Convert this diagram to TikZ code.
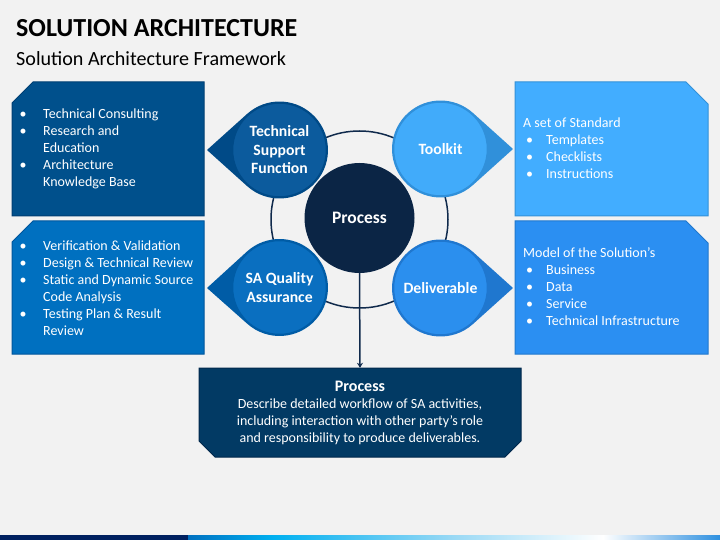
\documentclass[tikz,border=0pt]{standalone}
\usepackage{fontspec}
\setmainfont{Carlito}
\usetikzlibrary{arrows.meta,calc}
\definecolor{bg}{HTML}{F2F2F2}
\definecolor{cAbox}{HTML}{00508C}
\definecolor{cAcirc}{HTML}{0C5B9D}
\definecolor{cAtip}{HTML}{004A87}
\definecolor{cAedge}{HTML}{003F73}
\definecolor{cBbox}{HTML}{0070C0}
\definecolor{cBcirc}{HTML}{0A6FC0}
\definecolor{cBtip}{HTML}{005CA6}
\definecolor{cBedge}{HTML}{00569C}
\definecolor{cCbox}{HTML}{42ADFF}
\definecolor{cCcirc}{HTML}{41ABFA}
\definecolor{cCtip}{HTML}{3090DA}
\definecolor{cCedge}{HTML}{3391D8}
\definecolor{cDbox}{HTML}{2B8FF2}
\definecolor{cDcirc}{HTML}{2B8FEE}
\definecolor{cDtip}{HTML}{1F77CF}
\definecolor{cDedge}{HTML}{2178CC}
\definecolor{navy}{HTML}{0B2545}
\definecolor{ringc}{HTML}{102A4C}
\definecolor{pboxc}{HTML}{023A64}
\definecolor{pedge}{HTML}{01284C}
\definecolor{barA}{HTML}{002060}
\definecolor{barB}{HTML}{0070C0}
\definecolor{barC}{HTML}{00B0F0}
\definecolor{barD}{HTML}{9AD9F5}
\definecolor{barE}{HTML}{2E90E0}
\pgfdeclarehorizontalshading{barshade}{100bp}{color(0bp)=(barB); color(25bp)=(barB); color(33bp)=(barC); color(50bp)=(barD); color(64bp)=(white); color(75bp)=(barE); color(100bp)=(barE)}
\newcommand\bl{\makebox[23.5pt][l]{•}}
\newcommand\ind{\hspace*{23.5pt}}
\newcommand\rb{\hspace*{3pt}\makebox[20pt][l]{•}}
\tikzset{
  txt/.style={text=white, font=\fontsize{14}{17}\selectfont, align=left, inner sep=0pt},
  clabel/.style={circle, minimum size=94pt, inner sep=0pt, text=white, align=center, font=\fontsize{15.7}{18.5}\bfseries\selectfont, line width=1.5pt},
  boxedge/.style={line width=1pt},
  arrowline/.style={draw=ringc, line width=1.5pt, -{Stealth[length=5pt,width=6pt]}}
}
\begin{document}
\begin{tikzpicture}[x=1pt,y=-1pt]
\useasboundingbox (0,0) rectangle (720,540);
\fill[bg] (0,0) rectangle (720,540);
% title
\node[anchor=base west, inner sep=0pt, font=\fontsize{26}{30}\bfseries\selectfont] (title) at (16,37) {SOLUTION ARCHITECTURE};
\node[anchor=base west, inner sep=0pt, font=\fontsize{20.1}{24}\selectfont] (subtitle) at (16,66) {Solution Architecture Framework};
% boxes
\filldraw[cAbox, draw=cAedge, boxedge] (12,103) -- (33,82) -- (204,82) -- (204,216) -- (12,216) -- cycle;
\filldraw[cBbox, draw=cBedge, boxedge] (12,242) -- (33,221) -- (204,221) -- (204,354) -- (12,354) -- cycle;
\filldraw[cCbox, draw=cCedge, boxedge] (515,82) -- (686,82) -- (708,104) -- (708,216) -- (515,216) -- cycle;
\filldraw[cDbox, draw=cDedge, boxedge] (515,221) -- (686,221) -- (708,243) -- (708,354) -- (515,354) -- cycle;
\filldraw[pboxc, draw=pedge, boxedge] (199,368) -- (521,368) -- (521,441) -- (505,457) -- (215,457) -- (199,441) -- cycle;
\node[minimum width=322pt, minimum height=89pt, inner sep=0pt] (pbox) at (360,412.5) {};
% box texts
\node[txt, anchor=west] (tA) at (19.5,149) {\bl Technical Consulting\\ \bl Research and\\ \ind Education\\ \bl Architecture\\ \ind Knowledge Base};
\node[txt, anchor=west] (tB) at (19.5,288) {\bl Verification \& Validation\\ \bl Design \& Technical Review\\ \bl Static and Dynamic Source\\ \ind Code Analysis\\ \bl Testing Plan \& Result\\ \ind Review};
\node[txt, anchor=west] (tC) at (523,148.5) {A set of Standard\\ \rb Templates\\ \rb Checklists\\ \rb Instructions};
\node[txt, anchor=west] (tD) at (523,287) {Model of the Solution’s\\ \rb Business\\ \rb Data\\ \rb Service\\ \rb Technical Infrastructure};
\node[txt, align=center, font=\fontsize{14}{16.8}\selectfont] (tP) at (360,413) {{\bfseries\fontsize{16}{16.8}\selectfont Process}\\Describe detailed workflow of SA activities,\\including interaction with other party’s role\\and responsibility to produce deliverables.};
% ring
\node[circle, draw=ringc, line width=1.5pt, minimum size=177pt, inner sep=0pt] (ring) at (359.5,219.5) {};
% teardrops
\fill[cAtip] (207,150) -- ($(279.5,150)+(131.5:48.5)$) arc[start angle=131.5, delta angle=-263, radius=48.5] -- cycle;
\fill[cBtip] (207,288) -- ($(279.5,287.5)+(131.5:48.5)$) arc[start angle=131.5, delta angle=-263, radius=48.5] -- cycle;
\fill[cCtip] (513,149) -- ($(440.5,149)+(48.5:48.5)$) arc[start angle=48.5, delta angle=263, radius=48.5] -- cycle;
\fill[cDtip] (513,288) -- ($(440.5,288)+(48.5:48.5)$) arc[start angle=48.5, delta angle=263, radius=48.5] -- cycle;
% circles
\node[clabel, fill=cAcirc, draw=cAtip] (tsf) at (279.5,150) {Technical\\Support\\Function};
\node[clabel, fill=cBcirc, draw=cBtip] (saq) at (279.5,287.5) {SA Quality\\Assurance};
\node[clabel, fill=cCcirc, draw=cCtip] (tool) at (440.5,149) {Toolkit};
\node[clabel, fill=cDcirc, draw=cDtip] (deliv) at (440.5,288) {Deliverable};
\node[circle, fill=navy, minimum size=110pt, inner sep=0pt, text=white, font=\fontsize{17.5}{20}\bfseries\selectfont] (proc) at (359.5,218) {Process};
% arrow
\draw[arrowline] (proc.south) -- (pbox.north);
% bottom bar
\fill[barA] (0,535) rectangle (188,540);
\shade[shading=barshade] (188,535) rectangle (720,540);
\end{tikzpicture}
\end{document}
